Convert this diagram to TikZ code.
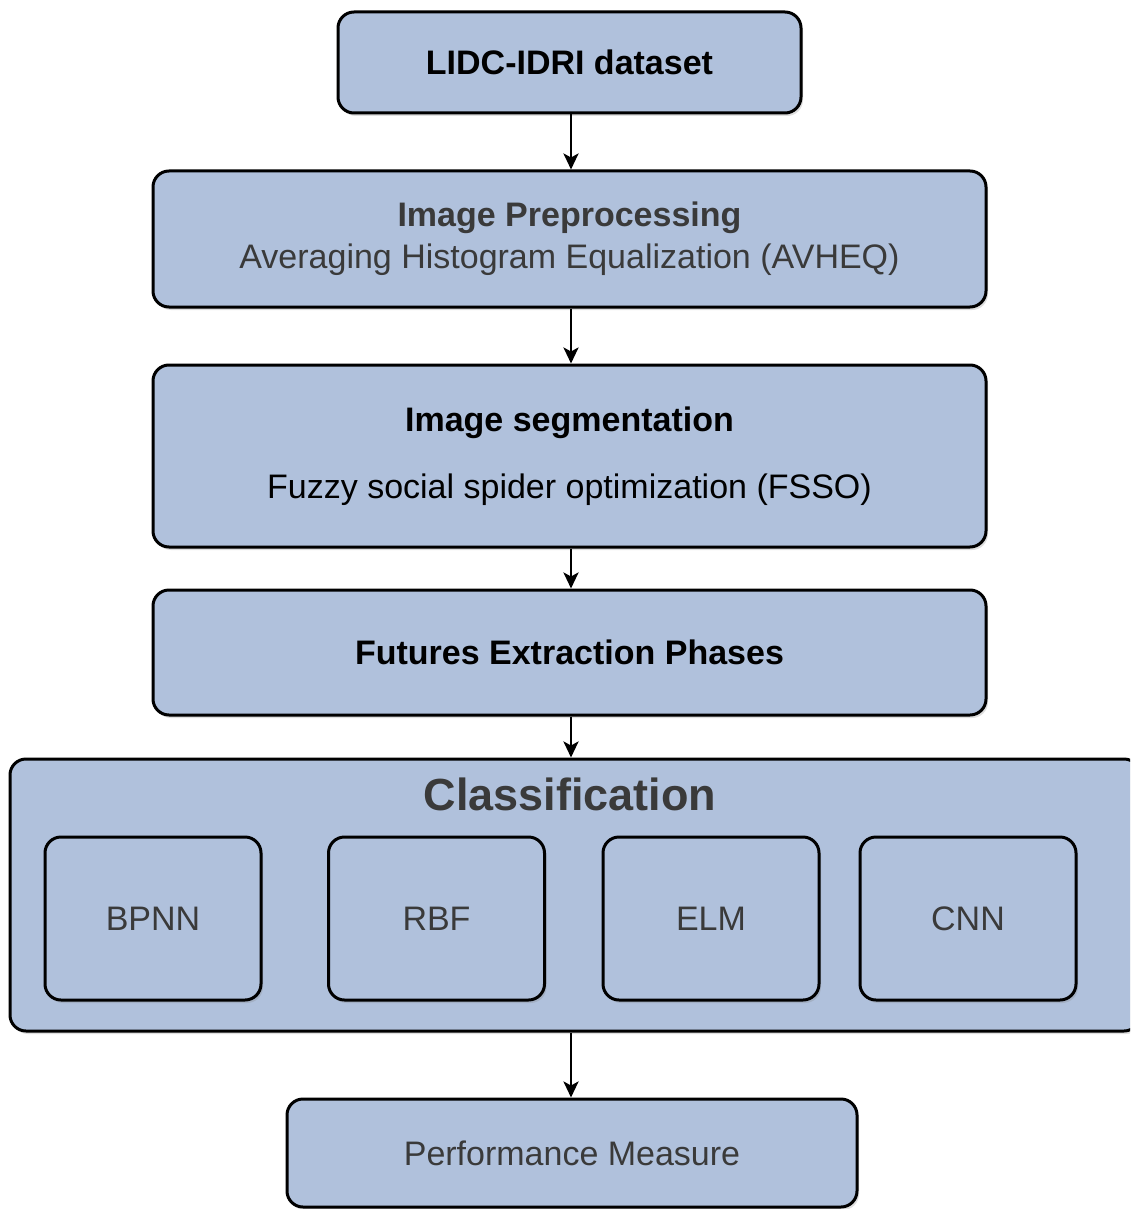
\documentclass[tikz,border=0pt]{standalone}
\usepackage{fontspec}
\setmainfont{Liberation Sans}
\usetikzlibrary{arrows.meta,shadows}
\definecolor{boxfill}{HTML}{B0C1DC}
\definecolor{txtgray}{HTML}{3A3A3A}
\begin{document}
\begin{tikzpicture}[x=1pt,y=-1pt,
  box/.style={draw=black, line width=3pt, rounded corners=16pt, fill=boxfill,
    drop shadow={opacity=0.25, shadow xshift=2pt, shadow yshift=-3pt},
    text=txtgray, font=\fontsize{34}{42}\selectfont, align=center, inner sep=0pt},
  inbox/.style={box, minimum width=216pt, minimum height=163pt},
  arr/.style={line width=2.8pt, -{Stealth[length=16pt,width=15pt,inset=4pt]}}]
\useasboundingbox (0,0) rectangle (1130,1209);
\clip (0,0) rectangle (1130,1209);
\fill[white] (0,0) rectangle (1130,1209);
\coordinate (ax) at (571,0);

\node[box, text=black, minimum width=463pt, minimum height=101pt] (lidc) at (569.5,62.5) {\bfseries LIDC-IDRI dataset};
\node[box, minimum width=833pt, minimum height=136pt] (pre) at (569.5,239)
  {{\bfseries Image Preprocessing}\\Averaging Histogram Equalization (AVHEQ)};
\node[box, minimum width=833pt, minimum height=182pt] (seg) at (569.5,456)
  {{\bfseries\color{black} Image segmentation}\\[25pt]\color{black}Fuzzy social spider optimization (FSSO)};
\node[box, text=black, minimum width=833pt, minimum height=125pt] (fut) at (569.5,652.5) {\bfseries Futures Extraction Phases};
\node[box, minimum width=1130pt, minimum height=272pt] (cls) at (575,895) {};
\node[text=txtgray, font=\fontsize{45}{50}\selectfont\bfseries, inner sep=0pt] (clstitle) at (570,794) {Classification};
\node[inbox] (bpnn) at (153,918.5) {BPNN};
\node[inbox] (rbf) at (436.5,918.5) {RBF};
\node[inbox] (elm) at (711,918.5) {ELM};
\node[inbox] (cnn) at (968,918.5) {CNN};
\node[box, minimum width=570pt, minimum height=108pt] (perf) at (572,1153) {Performance Measure};

\draw[arr] (lidc.south -| ax) -- (pre.north -| ax);
\draw[arr] (pre.south -| ax) -- (seg.north -| ax);
\draw[arr] (seg.south -| ax) -- (fut.north -| ax);
\draw[arr] (fut.south -| ax) -- (cls.north -| ax);
\draw[arr] (cls.south -| ax) -- (perf.north -| ax);
\end{tikzpicture}
\end{document}
